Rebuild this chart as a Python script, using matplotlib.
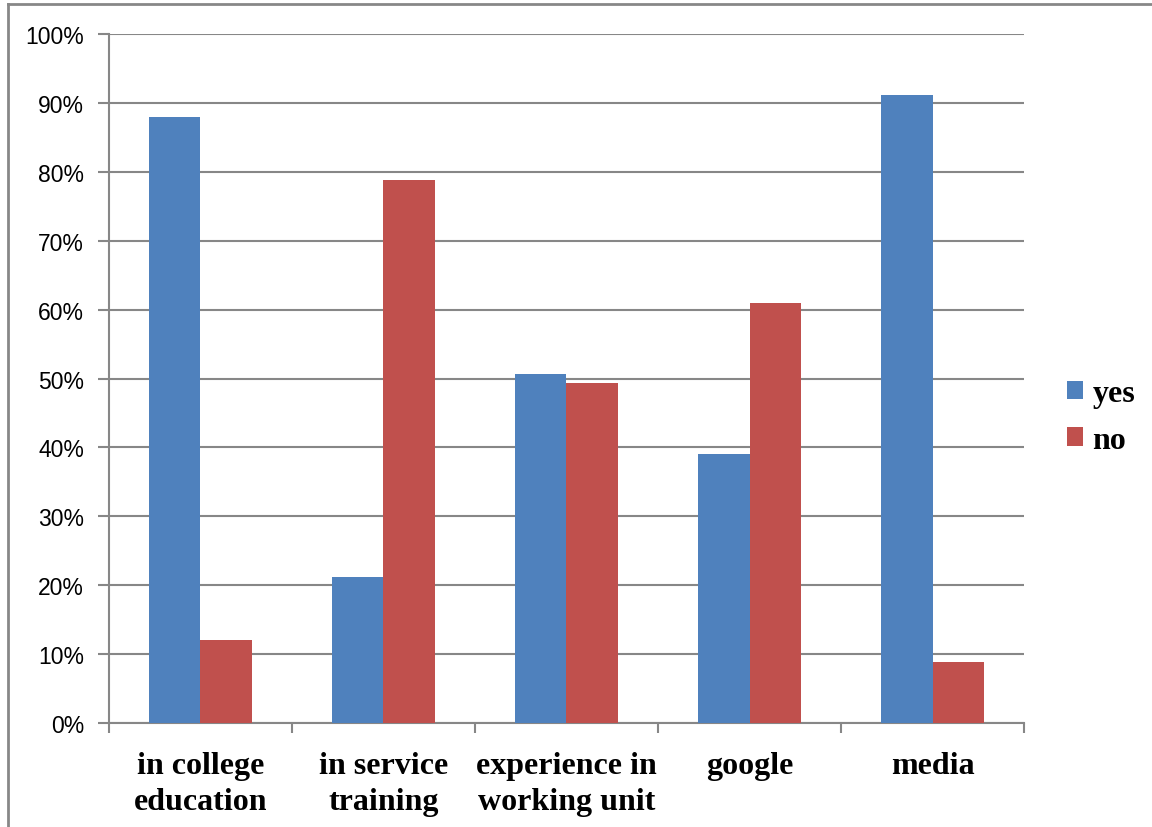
import matplotlib.pyplot as plt
import numpy as np
from matplotlib.lines import Line2D
from matplotlib.ticker import FixedLocator

categories = ['in college\neducation', 'in service\ntraining', 'experience in\nworking unit', 'google', 'media']
yes = [88.0, 21.2, 50.6, 39.0, 91.1]
no = [12.0, 78.8, 49.4, 61.0, 8.9]
yticks = [0, 10, 20, 30, 40, 50, 60, 70, 80, 90, 100]

blue = '#4F81BD'
red = '#C0504D'
grey = '#878787'

fig = plt.figure(figsize=(11.52, 8.28), dpi=100)
ax = fig.add_axes([0.0946, 0.1256, 0.7943, 0.8321])

x = np.arange(len(categories))
w = 0.284
ax.bar(x - w / 2, yes, w, color=blue, label='yes', zorder=3)
ax.bar(x + w / 2, no, w, color=red, label='no', zorder=3)

ax.set_xlim(-0.5, len(categories) - 0.5)
ax.set_ylim(0, 100)
ax.set_yticks(yticks)
ax.set_yticklabels([f'{v}%' for v in yticks], fontsize=16.5, family='Liberation Sans')
ax.yaxis.grid(True, color=grey, linewidth=1.5, zorder=0)
ax.tick_params(axis='y', length=8, width=1.5, color=grey, pad=10)

ax.set_xticks(x)
ax.set_xticklabels(categories, fontsize=23, family='Liberation Serif', fontweight='bold', linespacing=1.32)
ax.tick_params(axis='x', which='major', length=0, pad=20)
ax.xaxis.set_minor_locator(FixedLocator(np.arange(-0.5, len(categories), 1.0)))
ax.tick_params(axis='x', which='minor', length=7, width=1.5, color=grey)

for s in ['top', 'right']:
    ax.spines[s].set_visible(False)
for s in ['left', 'bottom']:
    ax.spines[s].set_color(grey)
    ax.spines[s].set_linewidth(1.5)

leg = ax.legend(loc='center left', bbox_to_anchor=(1.047, 0.444), frameon=False,
                prop={'family': 'Liberation Serif', 'weight': 'bold', 'size': 23},
                handlelength=0.5, handleheight=0.5, handletextpad=0.3,
                labelspacing=0.55, borderpad=0, borderaxespad=0)

# outer frame (top and left edges visible in the reference)
fig.add_artist(Line2D([0.007, 0.007], [0, 0.994], transform=fig.transFigure, color=grey, linewidth=2))
fig.add_artist(Line2D([0.007, 1.0], [0.994, 0.994], transform=fig.transFigure, color=grey, linewidth=2))

fig.savefig('out.png', dpi=100)
